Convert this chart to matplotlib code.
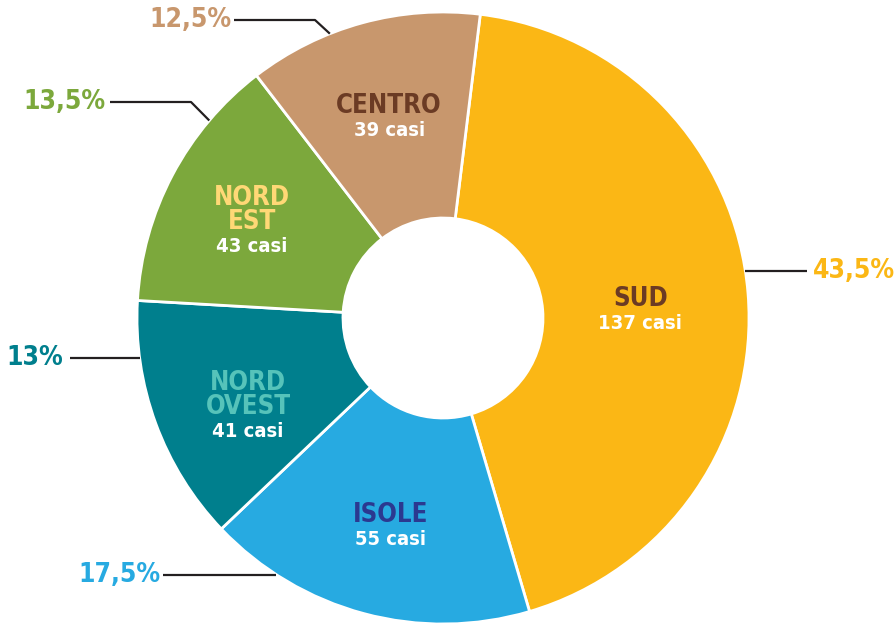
import matplotlib.pyplot as plt
from matplotlib import font_manager
import numpy as np

# ---- data ----
regions = ['SUD', 'ISOLE', 'NORD\nOVEST', 'NORD\nEST', 'CENTRO']
cases = [137, 55, 41, 43, 39]
pct_labels = ['43,5%', '17,5%', '13%', '13,5%', '12,5%']

# ---- style ----
colors = ['#FBB715', '#27AAE1', '#007F8D', '#7CA83C', '#C8976D']
title_colors = ['#6B3B24', '#2B3990', '#56C3BA', '#FFD876', '#6B3B24']
# small nudges of the inside labels (px right, px down)
nudges = [(-14, 6), (2, 0), (4, 13), (-4, 0), (2, 1)]

# pick a narrow bold face if there is one
fonts = font_manager.fontManager.ttflist
cond = [f for f in fonts if ('Condensed' in f.fname or 'Narrow' in f.fname)
        and f.weight in ('bold', 700, 'heavy')]
if cond:
    FP = font_manager.FontProperties(fname=cond[0].fname)
    scale = 1.0
else:
    FP = font_manager.FontProperties(family='Roboto', weight='bold')
    scale = 0.88

W, H = 895, 627
cx, cy = 443, H - 318
R, r_in = 306, 100

fig = plt.figure(figsize=(W / 100, H / 100), dpi=100)
ax = fig.add_axes([0, 0, 1, 1])

wedges, _ = ax.pie(cases, colors=colors, startangle=83, counterclock=False,
                   center=(cx, cy), radius=R,
                   wedgeprops=dict(width=R - r_in, edgecolor='white', linewidth=2))
ax.set_xlim(0, W)
ax.set_ylim(0, H)
ax.axis('off')


def fp(size):
    p = FP.copy()
    p.set_size(size * scale)
    return p


# labels inside the ring
for w, name, n, tc, (dx, dy) in zip(wedges, regions, cases, title_colors, nudges):
    mid = np.deg2rad((w.theta1 + w.theta2) / 2)
    lx = cx + 212 * np.cos(mid) + dx
    ly = cy + 212 * np.sin(mid) - dy
    nlines = name.count('\n') + 1
    base = ly - 6 - 11 * (nlines - 1)
    ax.text(lx, base + 1, name, ha='center', va='bottom', color=tc,
            fontproperties=fp(18.5), linespacing=0.9)
    ax.text(lx, base - 1, f'{n} casi', ha='center', va='top', color='white',
            fontproperties=fp(14.5))

# outside percentages with leader lines
# (anchor angle on the rim, elbow x, line y in px from top, line end x, text x, align)
leaders = [
    (8.8, None, 271, 807, 813, 'left'),
    (237, None, 580, 163, 161, 'right'),
    (187.5, None, 358, 70, 63, 'right'),
    (139.8, 191, 102, 110, 106, 'right'),
    (111.7, 315, 20, 234, 232, 'right'),
]
for (ang, ex, ey, endx, tx, ha), lab, col in zip(leaders, pct_labels, colors):
    a = np.deg2rad(ang)
    px = cx + R * np.cos(a)
    py = cy + R * np.sin(a)
    if ex is None:
        xs = [px, endx]
        ys = [py, py]
    else:
        xs = [px, ex, endx]
        ys = [py, H - ey, H - ey]
    ax.plot(xs, ys, color='#231F20', lw=1.6, solid_capstyle='butt')
    ax.text(tx, ys[-1], lab, ha=ha, va='center', color=col,
            fontproperties=fp(19))

fig.savefig('out.png', dpi=100)
